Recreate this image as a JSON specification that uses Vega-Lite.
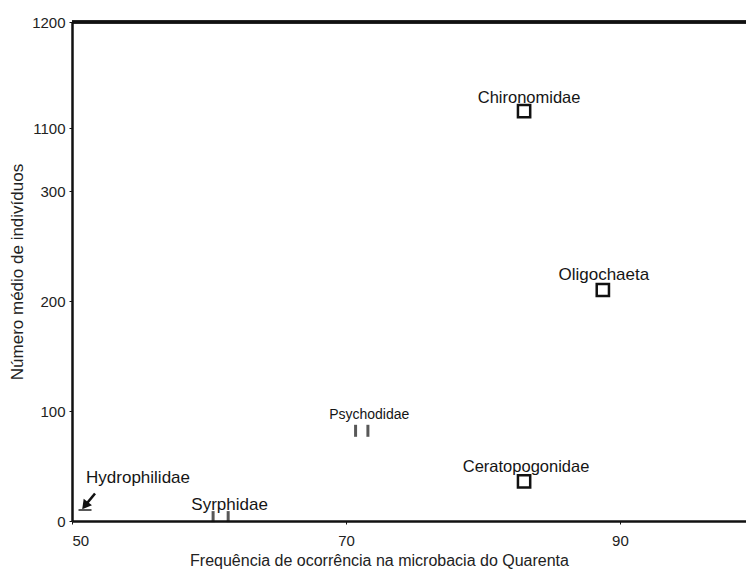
{
  "$schema": "https://vega.github.io/schema/vega-lite/v6.json",
  "autosize": "none",
  "padding": {"left": 72, "top": 22, "right": 0, "bottom": 54},
  "width": 674,
  "height": 499,
  "background": "white",
  "config": {
    "view": {"stroke": "transparent"},
    "font": "Liberation Sans",
    "text": {"font": "Liberation Sans", "color": "#151515", "baseline": "alphabetic"}
  },
  "datasets": {
    "pts": [
      {"taxon": "Chironomidae", "freq": 83.0, "n": 1116, "marker": "square"},
      {"taxon": "Oligochaeta", "freq": 88.75, "n": 210, "marker": "square"},
      {"taxon": "Ceratopogonidae", "freq": 83.0, "n": 36, "marker": "square"},
      {"taxon": "Psychodidae", "freq": 70.7, "n": 82, "marker": "bar"},
      {"taxon": "Psychodidae", "freq": 71.6, "n": 82, "marker": "bar"},
      {"taxon": "Syrphidae", "freq": 60.3, "n": 4, "marker": "bar"},
      {"taxon": "Syrphidae", "freq": 61.4, "n": 4, "marker": "bar"},
      {"taxon": "Hydrophilidae", "freq": 50.95, "n": 10, "marker": "dash"}
    ],
    "labels": [
      {"taxon": "Chironomidae", "freq": 83.0, "n": 1116},
      {"taxon": "Oligochaeta", "freq": 88.75, "n": 210},
      {"taxon": "Ceratopogonidae", "freq": 83.0, "n": 36},
      {"taxon": "Psychodidae", "freq": 71.15, "n": 82},
      {"taxon": "Syrphidae", "freq": 60.85, "n": 4},
      {"taxon": "Hydrophilidae", "freq": 50.95, "n": 10}
    ],
    "arrow": [
      {"x_tail": 51.68, "n_tail": 25.0, "x_tip": 50.95, "n_tip": 14.0}
    ]
  },
  "layer": [
    {
      "data": {"name": "pts"},
      "transform": [{"filter": "datum.marker === 'square'"}],
      "mark": {"type": "point", "shape": "square", "size": 150, "filled": false, "stroke": "#111", "strokeWidth": 2.5, "opacity": 1},
      "encoding": {
        "x": {
          "field": "freq", "type": "quantitative",
          "scale": {"domain": [50, 99.2], "nice": false, "zero": false},
          "axis": {
            "values": [50, 70, 90], "format": "d", "title": "Frequência de ocorrência na microbacia do Quarenta",
            "grid": false, "domainColor": "#111", "domainWidth": 2.5, "tickColor": "#111", "tickSize": 3,
            "labelFont": "Liberation Sans", "labelFontSize": 15, "labelColor": "#222", "labelPadding": 9,
            "titleFont": "Liberation Sans", "titleFontSize": 16, "titleFontWeight": "normal", "titleColor": "#222", "titlePadding": 4,
            "titleX": 307, "titleAlign": "center", "titleAnchor": null
          }
        },
        "y": {
          "field": "n", "type": "quantitative",
          "scale": {"domain": [0, 300, 1100, 1200], "range": [499, 169, 106, 0], "nice": false, "zero": false},
          "axis": {
            "values": [0, 100, 200, 300, 1100, 1200], "format": "d", "title": "Número médio de indivíduos",
            "grid": false, "domainColor": "#111", "domainWidth": 2.5, "tickColor": "#111", "tickSize": 3,
            "labelFont": "Liberation Sans", "labelFontSize": 15, "labelColor": "#222", "labelPadding": 4,
            "titleFont": "Liberation Sans", "titleFontSize": 17, "titleFontWeight": "normal", "titleColor": "#222", "titlePadding": 5
          }
        }
      }
    },
    {
      "data": {"name": "pts"},
      "mark": {"type": "rule", "stroke": "#111", "strokeWidth": 2.5},
      "encoding": {"y": {"datum": 1200, "type": "quantitative"}}
    },
    {
      "data": {"name": "pts"},
      "transform": [{"filter": "datum.marker === 'bar' && datum.taxon === 'Psychodidae'"}],
      "mark": {"type": "tick", "orient": "vertical", "size": 12, "thickness": 3, "color": "#111"},
      "encoding": {"x": {"field": "freq", "type": "quantitative"}, "y": {"field": "n", "type": "quantitative"}}
    },
    {
      "data": {"name": "pts"},
      "transform": [{"filter": "datum.marker === 'bar' && datum.taxon === 'Syrphidae'"}],
      "mark": {"type": "tick", "orient": "vertical", "size": 11, "thickness": 3, "color": "#111"},
      "encoding": {"x": {"field": "freq", "type": "quantitative"}, "y": {"field": "n", "type": "quantitative"}}
    },
    {
      "data": {"name": "pts"},
      "transform": [{"filter": "datum.marker === 'dash'"}],
      "mark": {"type": "tick", "orient": "horizontal", "size": 13, "thickness": 2, "color": "#111"},
      "encoding": {"x": {"field": "freq", "type": "quantitative"}, "y": {"field": "n", "type": "quantitative"}}
    },
    {
      "data": {"name": "arrow"},
      "mark": {"type": "rule", "stroke": "#111", "strokeWidth": 2.5},
      "encoding": {
        "x": {"field": "x_tail", "type": "quantitative"},
        "y": {"field": "n_tail", "type": "quantitative"},
        "x2": {"field": "x_tip"},
        "y2": {"field": "n_tip"}
      }
    },
    {
      "data": {"name": "arrow"},
      "mark": {"type": "point", "shape": "triangle-up", "size": 110, "filled": true, "color": "#111", "opacity": 1, "angle": 218},
      "encoding": {
        "x": {"field": "x_tip", "type": "quantitative"},
        "y": {"field": "n_tip", "type": "quantitative"}
      }
    },
    {
      "data": {"name": "labels"},
      "transform": [{"filter": "datum.taxon === 'Chironomidae'"}],
      "mark": {"type": "text", "fontSize": 16.5, "dx": 5, "dy": -8.5},
      "encoding": {"x": {"field": "freq", "type": "quantitative"}, "y": {"field": "n", "type": "quantitative"}, "text": {"field": "taxon"}}
    },
    {
      "data": {"name": "labels"},
      "transform": [{"filter": "datum.taxon === 'Oligochaeta'"}],
      "mark": {"type": "text", "fontSize": 17, "dx": 1, "dy": -10},
      "encoding": {"x": {"field": "freq", "type": "quantitative"}, "y": {"field": "n", "type": "quantitative"}, "text": {"field": "taxon"}}
    },
    {
      "data": {"name": "labels"},
      "transform": [{"filter": "datum.taxon === 'Ceratopogonidae'"}],
      "mark": {"type": "text", "fontSize": 16.5, "dx": 2, "dy": -9},
      "encoding": {"x": {"field": "freq", "type": "quantitative"}, "y": {"field": "n", "type": "quantitative"}, "text": {"field": "taxon"}}
    },
    {
      "data": {"name": "labels"},
      "transform": [{"filter": "datum.taxon === 'Psychodidae'"}],
      "mark": {"type": "text", "fontSize": 14, "dx": 7.5, "dy": -12},
      "encoding": {"x": {"field": "freq", "type": "quantitative"}, "y": {"field": "n", "type": "quantitative"}, "text": {"field": "taxon"}}
    },
    {
      "data": {"name": "labels"},
      "transform": [{"filter": "datum.taxon === 'Syrphidae'"}],
      "mark": {"type": "text", "fontSize": 17, "dx": 9, "dy": -7},
      "encoding": {"x": {"field": "freq", "type": "quantitative"}, "y": {"field": "n", "type": "quantitative"}, "text": {"field": "taxon"}}
    },
    {
      "data": {"name": "labels"},
      "transform": [{"filter": "datum.taxon === 'Hydrophilidae'"}],
      "mark": {"type": "text", "fontSize": 17, "dx": 53, "dy": -27},
      "encoding": {"x": {"field": "freq", "type": "quantitative"}, "y": {"field": "n", "type": "quantitative"}, "text": {"field": "taxon"}}
    }
  ]
}
